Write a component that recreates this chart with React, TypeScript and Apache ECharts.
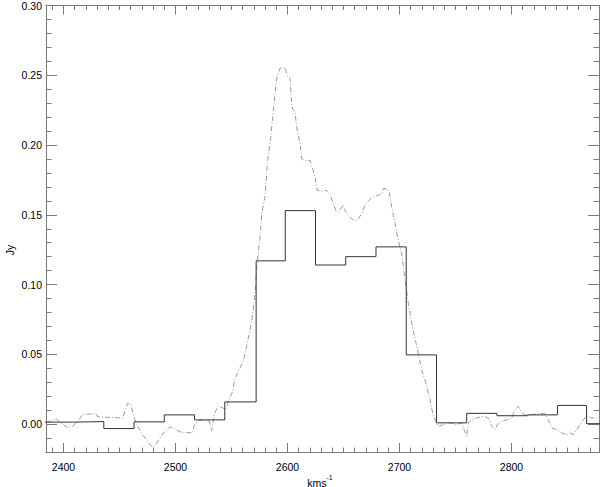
import React, { useEffect, useRef } from "react";
import * as echarts from "echarts";

// High-resolution spectrum (dash-dot line): velocity (km/s) and flux (Jy)
const specVelocity = [
  2384.4, 2393.3, 2397.8, 2403.8, 2408.2, 2412.7, 2417.1, 2429.0, 2430.5, 2435.0,
  2452.9, 2455.2, 2457.3, 2460.3, 2462.3, 2464.7, 2469.2, 2473.7, 2479.0, 2482.6,
  2487.1, 2491.5, 2496.0, 2500.4, 2504.9, 2515.4, 2516.8, 2521.3, 2525.7, 2530.2,
  2532.3, 2534.6, 2537.7, 2542.1, 2545.1, 2547.5, 2551.1, 2553.1, 2560.5, 2565.0,
  2568.0, 2571.0, 2572.5, 2573.9, 2575.4, 2577.0, 2579.9, 2582.0, 2585.0, 2586.8,
  2588.8, 2590.4, 2593.3, 2597.8, 2599.8, 2602.2, 2603.8, 2604.6, 2606.7, 2608.2,
  2611.2, 2612.7, 2615.6, 2620.1, 2621.6, 2624.6, 2626.6, 2630.5, 2635.0, 2637.9,
  2640.9, 2643.3, 2645.4, 2649.8, 2651.3, 2654.3, 2657.3, 2660.3, 2663.2, 2666.3,
  2669.2, 2672.1, 2676.6, 2681.1, 2684.1, 2685.5, 2688.6, 2690.9, 2693.0, 2696.0,
  2698.9, 2702.0, 2704.0, 2705.8, 2707.9, 2710.9, 2715.4, 2719.8, 2724.3, 2727.2,
  2730.2, 2732.6, 2734.6, 2739.1, 2745.1, 2751.1, 2755.5, 2757.6, 2760.0, 2761.4,
  2764.5, 2768.9, 2774.8, 2779.3, 2782.3, 2785.3, 2787.3, 2791.3, 2795.7, 2800.2,
  2803.1, 2806.1, 2809.1, 2813.6, 2818.0, 2825.4, 2829.9, 2832.9, 2835.9, 2840.4,
  2844.8, 2849.3, 2852.2, 2855.2, 2858.2, 2861.2, 2864.1, 2867.1, 2871.6, 2876.1,
  2878.1,
];
const specFlux = [
  0.001, 0.0037, 0.001, -0.0027, -0.0015, 0.002, 0.0068, 0.0075, 0.0054, 0.005,
  0.0044, 0.0104, 0.015, 0.014, 0.0068, 0.001, -0.0058, -0.011, -0.0163, -0.0146,
  -0.0087, -0.004, -0.002, -0.004, -0.0058, -0.0063, -0.0004, 0.0027, 0.003, 0.002,
  -0.005, 0.0068, 0.0127, 0.0116, 0.0104, 0.0175, 0.0234, 0.033, 0.0449, 0.0616,
  0.0734, 0.0925, 0.1116, 0.1234, 0.133, 0.151, 0.163, 0.187, 0.2056, 0.22,
  0.2366, 0.248, 0.255, 0.2556, 0.2496, 0.248, 0.229, 0.2259, 0.2234, 0.2127,
  0.2009, 0.19, 0.189, 0.189, 0.1854, 0.177, 0.1675, 0.167, 0.1675, 0.165,
  0.158, 0.1527, 0.152, 0.157, 0.153, 0.15, 0.147, 0.146, 0.147, 0.151,
  0.157, 0.16, 0.163, 0.164, 0.165, 0.1687, 0.1687, 0.1663, 0.1556, 0.1437,
  0.1318, 0.122, 0.11, 0.0984, 0.0866, 0.0723, 0.0556, 0.039, 0.027, 0.0175,
  0.0056, 0.002, -0.0016, -0.0004, 0.0009, -0.0004, 0.0009, -0.004, -0.0087, 0.0009,
  0.003, 0.0044, 0.0056, 0.0044, -0.0016, -0.004, -0.0004, 0.002, 0.003, 0.0044,
  0.0104, 0.0127, 0.008, 0.006, 0.0068, 0.0075, 0.0075, 0.003, -0.0027, -0.004,
  -0.0063, -0.0075, -0.0063, -0.0075, -0.004, -0.0004, 0.003, 0.006, 0.0044, 0.0044,
  0.0056,
];

// Low-resolution histogram (solid steps): bin edges (km/s) and bin fluxes (Jy)
const binEdges = [
  2382, 2409, 2436, 2463, 2490, 2517, 2544, 2572, 2598, 2625,
  2652, 2679, 2706, 2733, 2760, 2787, 2814, 2841, 2867, 2894,
];
const binFlux = [
  0.0014, 0.0018, -0.0032, 0.0016, 0.0066, 0.003, 0.0159, 0.117, 0.153, 0.114,
  0.12, 0.127, 0.0496, 0.0009, 0.0077, 0.006, 0.0066, 0.0134, 0.0003,
];

const xMajorTicks = [2400, 2500, 2600, 2700, 2800];
const yMajorTicks = [0, 0.05, 0.1, 0.15, 0.2, 0.25, 0.3];
const X_MIN = 2384.4;
const X_MAX = 2878.1;
const Y_MIN = -0.02;
const Y_MAX = 0.3;

const xMinorTicks: number[] = [];
for (let v = 2390; v <= 2870; v += 10) xMinorTicks.push(v);
const yMinorTicks: number[] = [];
for (let i = -2; i <= 30; i++) yMinorTicks.push(Math.round(i * 100) / 10000 * 1);
for (let i = 0; i < yMinorTicks.length; i++) yMinorTicks[i] = Math.round((-0.02 + i * 0.01) * 1000) / 1000;

const AXIS_COLOR = "#7a7a7a";
const FONT = "Liberation Sans, Arial, Helvetica, sans-serif";

function makeX(position: "top" | "bottom", ticks: number[], len: number, labels: boolean) {
  return {
    type: "value",
    min: X_MIN,
    max: X_MAX,
    position,
    axisLine: { show: true, onZero: false, lineStyle: { color: AXIS_COLOR, width: 1 } },
    axisTick: { show: true, inside: true, length: len, customValues: ticks, lineStyle: { color: AXIS_COLOR } },
    axisLabel: labels
      ? { show: true, customValues: ticks, margin: 9, color: "#000", fontSize: 10.5, fontFamily: FONT, formatter: (v: number) => String(v) }
      : { show: false },
    splitLine: { show: false },
  };
}
function makeY(position: "left" | "right", ticks: number[], len: number, labels: boolean) {
  return {
    type: "value",
    min: Y_MIN,
    max: Y_MAX,
    position,
    axisLine: { show: true, onZero: false, lineStyle: { color: AXIS_COLOR, width: 1 } },
    axisTick: { show: true, inside: true, length: len, customValues: ticks, lineStyle: { color: AXIS_COLOR } },
    axisLabel: labels
      ? { show: true, customValues: ticks, margin: 4, color: "#000", fontSize: 10.5, fontFamily: FONT, formatter: (v: number) => v.toFixed(2) }
      : { show: false },
    splitLine: { show: false },
  };
}

export default function App() {
  const ref = useRef<HTMLDivElement>(null);
  useEffect(() => {
    document.body.style.margin = "0";
    if (!ref.current) return;
    const chart = echarts.init(ref.current, null, { renderer: "svg" });

    const specData = specVelocity.map((v, i) => [v, specFlux[i]]);
    const histData: number[][] = binFlux.map((f, i) => [binEdges[i], f]);
    histData.push([binEdges[binEdges.length - 1], binFlux[binFlux.length - 1]]);

    chart.setOption({
      animation: false,
      backgroundColor: "#fff",
      grid: { left: 46, right: 1, top: 4.5, bottom: 35, containLabel: false },
      xAxis: [
        makeX("bottom", xMajorTicks, 9, true),
        makeX("bottom", xMinorTicks, 4.5, false),
        makeX("top", xMajorTicks, 9, false),
        makeX("top", xMinorTicks, 4.5, false),
      ],
      yAxis: [
        makeY("left", yMajorTicks, 11, true),
        makeY("left", yMinorTicks, 5.5, false),
        makeY("right", yMajorTicks, 11, false),
        makeY("right", yMinorTicks, 5.5, false),
      ],
      series: [
        {
          type: "line",
          xAxisIndex: 0,
          yAxisIndex: 0,
          data: specData,
          showSymbol: false,
          symbol: "none",
          clip: true,
          lineStyle: { color: "#9a9a9a", width: 1, type: [5, 2, 1, 2] },
          z: 2,
        },
        {
          type: "line",
          xAxisIndex: 0,
          yAxisIndex: 0,
          data: histData,
          step: "end",
          showSymbol: false,
          symbol: "none",
          clip: true,
          lineStyle: { color: "#333", width: 1 },
          z: 3,
        },
      ],
      graphic: [
        {
          type: "text",
          x: 320,
          y: 481,
          style: {
            text: "{a|kms}{b|-1}",
            align: "center",
            verticalAlign: "middle",
            rich: {
              a: { fontSize: 10.5, fontFamily: FONT, fill: "#000", lineHeight: 14, verticalAlign: "bottom" },
              b: { fontSize: 7, fontFamily: FONT, fill: "#000", verticalAlign: "top", lineHeight: 14 },
            },
          },
        },
        {
          type: "text",
          x: 10,
          y: 250,
          rotation: Math.PI / 2,
          style: {
            text: "Jy",
            align: "center",
            verticalAlign: "middle",
            fontSize: 10.5,
            fontFamily: FONT,
            fill: "#000",
          },
        },
      ],
    });
    return () => chart.dispose();
  }, []);
  return <div ref={ref} style={{ width: 600, height: 487 }} />;
}
